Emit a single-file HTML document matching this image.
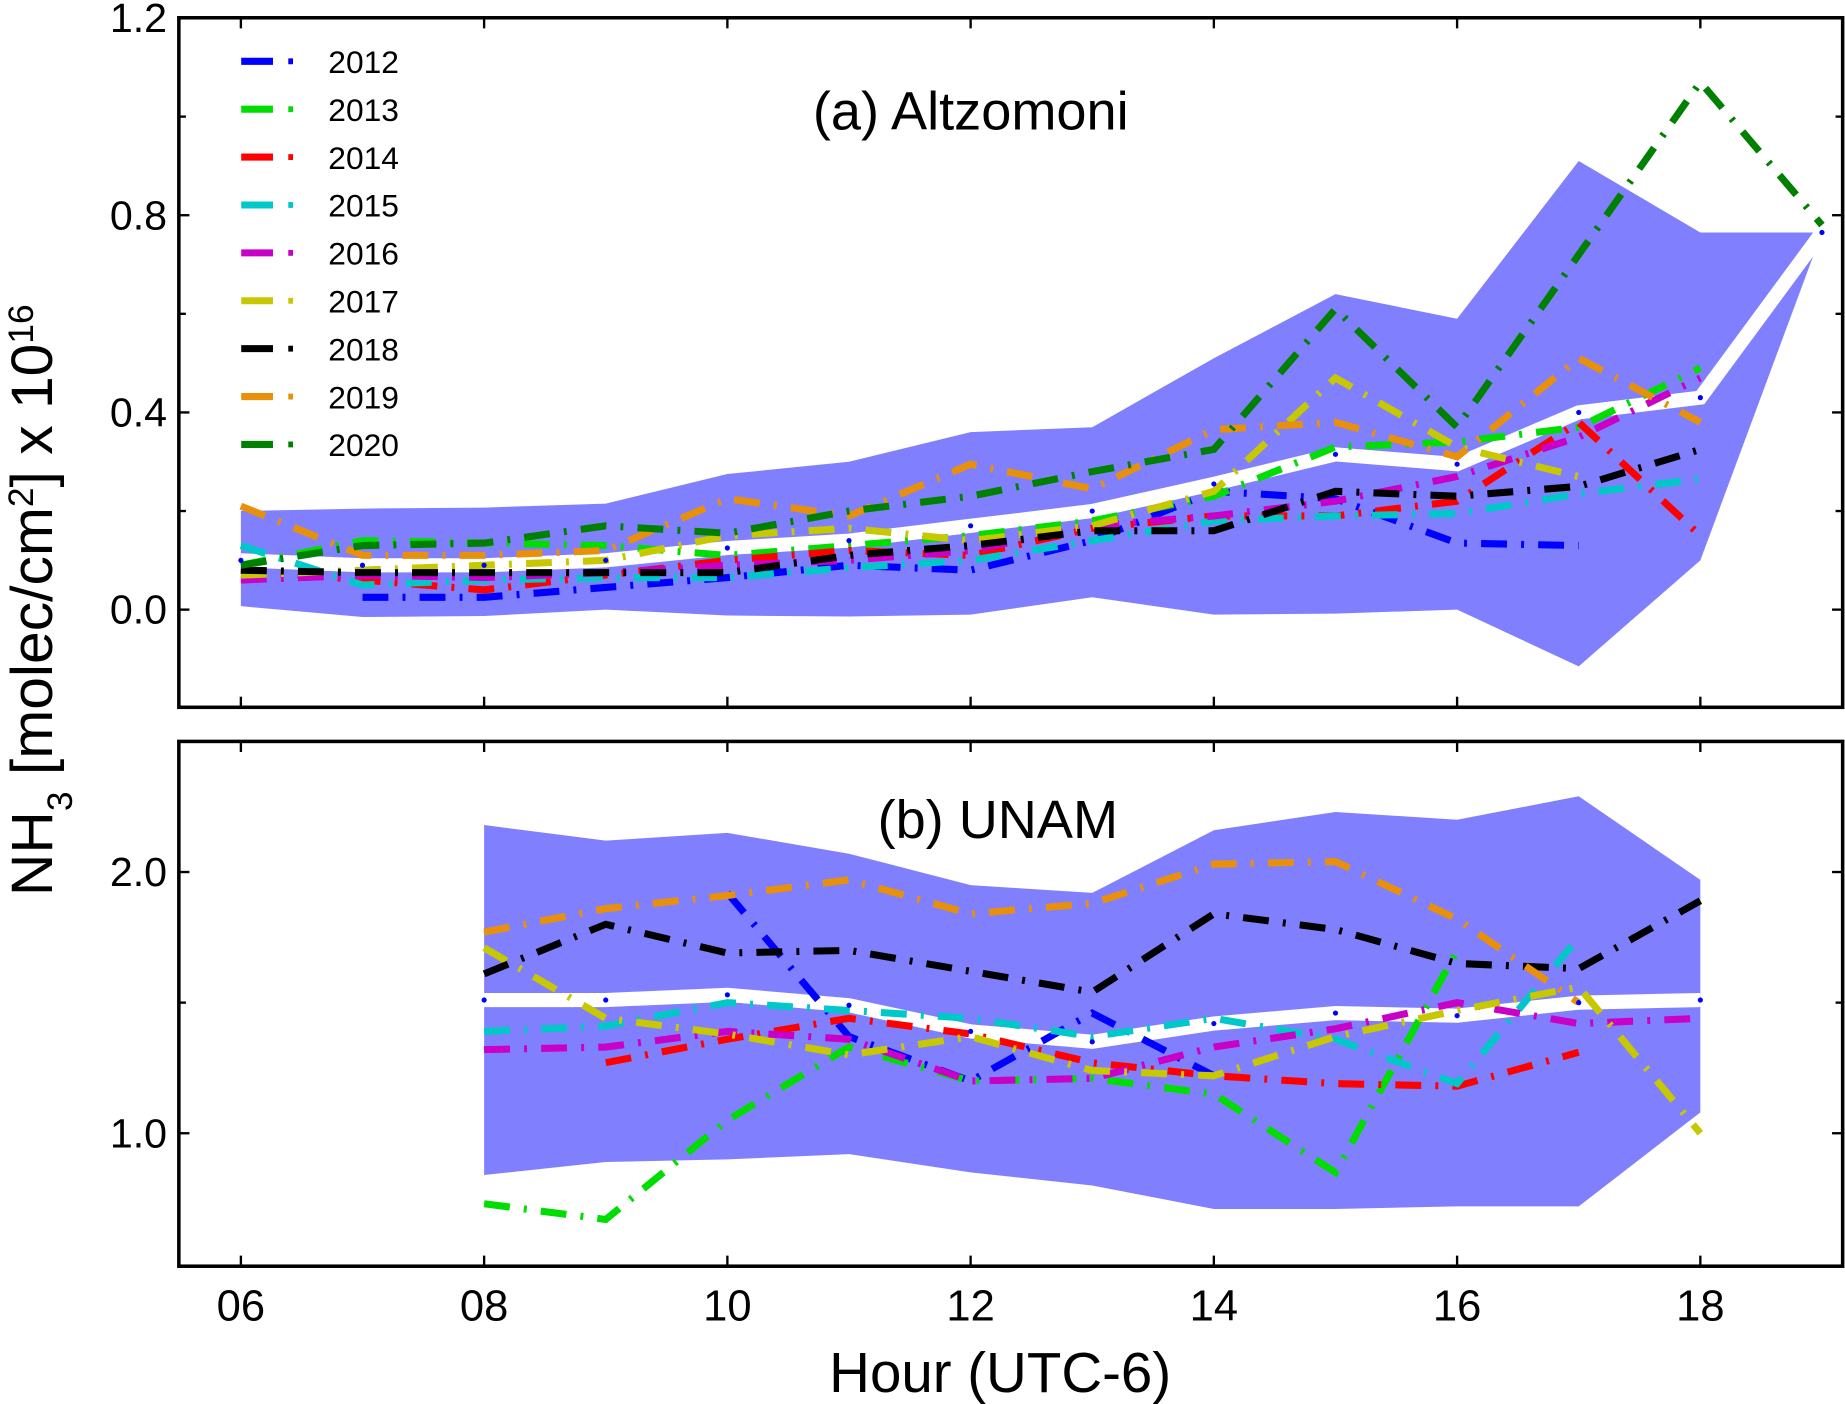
<!DOCTYPE html>
<html><head><meta charset="utf-8"><style>
html,body{margin:0;padding:0;background:#fff}
svg{display:block}
text{font-family:"Liberation Sans",sans-serif;fill:#000}
</style></head><body>
<svg id="chart" width="1845" height="1404" viewBox="0 0 1568 1193" xmlns="http://www.w3.org/2000/svg">
<g id="root"></g>
</svg>
<script>
const hoursTop=[6,7,8,9,10,11,12,13,14,15,16,17,18,19];
const envUpperTop=[0.2,0.205,0.207,0.215,0.275,0.30,0.36,0.37,0.51,0.64,0.59,0.91,0.765,0.765];
const envLowerTop=[0.007,-0.015,-0.013,0.0,-0.012,-0.014,-0.01,0.025,-0.01,-0.008,0.0,-0.115,0.10,0.765];
const meanTop=[0.10,0.09,0.09,0.10,0.125,0.14,0.17,0.20,0.255,0.315,0.295,0.40,0.43,0.765];
const yearsLabels=['2012','2013','2014','2015','2016','2017','2018','2019','2020'];
const colors=['#0000ff','#00dd00','#ff0000','#00c8c8','#c800c8','#c8c800','#000000','#e8900a','#008000'];
const top2012=[null,0.025,0.025,0.045,0.065,0.09,0.08,0.14,0.24,0.225,0.135,0.13,null,null];
const top2013=[0.09,0.14,0.135,0.13,0.11,0.13,0.15,0.18,0.23,0.33,0.34,0.37,0.49,null];
const top2014=[0.08,0.06,0.04,0.07,0.10,0.12,0.11,0.165,0.19,0.19,0.22,0.38,0.15,null];
const top2015=[0.13,0.05,0.06,0.065,0.065,0.085,0.10,0.14,0.18,0.19,0.195,0.235,0.265,null];
const top2016=[0.06,0.07,0.065,0.075,0.09,0.10,0.12,0.17,0.19,0.22,0.27,0.35,0.47,null];
const top2017=[0.07,0.08,0.09,0.10,0.15,0.165,0.14,0.17,0.24,0.47,0.33,0.27,null,null];
const top2018=[0.08,0.075,0.075,0.075,0.075,0.11,0.13,0.16,0.16,0.24,0.23,0.25,0.325,null];
const top2019=[0.21,0.11,0.11,0.12,0.225,0.19,0.295,0.245,0.365,0.38,0.31,0.51,0.38,null];
const top2020=[0.09,0.13,0.135,0.17,0.155,0.20,0.23,0.28,0.325,0.61,0.37,0.72,1.07,0.78];
const hoursBot=[8,9,10,11,12,13,14,15,16,17,18];
const envUpperBot=[2.18,2.12,2.15,2.07,1.95,1.92,2.16,2.23,2.2,2.29,1.97];
const envLowerBot=[0.84,0.89,0.90,0.92,0.85,0.80,0.71,0.71,0.72,0.72,1.08];
const meanBot=[1.51,1.51,1.53,1.49,1.39,1.35,1.42,1.46,1.45,1.50,1.51];
const bot2012=[null,null,1.92,1.37,1.20,1.46,1.22,null,null,null,null];
const bot2013=[0.73,0.67,1.05,1.33,1.20,1.21,1.15,0.85,1.70,null,null];
const bot2014=[null,1.27,1.36,1.44,1.38,1.27,1.22,1.19,1.18,1.31,null];
const bot2015=[1.39,1.41,1.50,1.47,1.44,1.37,1.44,1.36,1.19,1.75,null];
const bot2016=[1.32,1.33,1.39,1.36,1.20,1.21,1.33,1.40,1.50,1.42,1.44];
const bot2017=[1.71,1.44,1.38,1.30,1.37,1.24,1.22,1.37,1.47,1.56,1.00];
const bot2018=[1.61,1.80,1.69,1.70,1.62,1.54,1.84,1.78,1.65,1.63,1.89];
const bot2019=[1.77,1.86,1.91,1.97,1.84,1.88,2.03,2.04,1.82,1.50,null];
const bot2020=[null,null,null,null,null,null,null,null,null,null,null];
const xTicks=['06','08','10','12','14','16','18'];
const yTicksTop=['0.0','0.4','0.8','1.2'];
const yTicksBot=['1.0','2.0'];

const NS='http://www.w3.org/2000/svg';
const root=document.getElementById('root');
function mk(tag,attrs,parent){const e=document.createElementNS(NS,tag);for(const k in attrs)e.setAttribute(k,attrs[k]);(parent||root).appendChild(e);return e;}
const X0=152,X1=1566,H0=5.49,H1=19.17;
const xs=h=>X0+(h-H0)/(H1-H0)*(X1-X0);
const yTop=v=>518-v*419;
const yBot=v=>741-(v-2.0)*222;
const DASH='22,12,2.5,12';

function panel(name,yf,y0,y1,hours,up,lo,mean,series,ticks,minor){
  const g=mk('g',{});
  
  
  let p='';
  hours.forEach((h,i)=>{p+=(i?'L':'M')+xs(h)+','+yf(up[i]);});
  for(let i=hours.length-1;i>=0;i--)p+='L'+xs(hours[i])+','+yf(lo[i]);
  const env=mk('path',{d:p+'Z',fill:'#8080ff',stroke:'none'},g);
  
  
  const m=mk('polyline',{points:hours.map((h,i)=>xs(h)+','+yf(mean[i])).join(' '),fill:'none',stroke:'#fff','stroke-width':12},g);
  
  
  series.forEach((s,k)=>{
    const segs=[];let cur=[];
    s.forEach((v,i)=>{if(v==null){if(cur.length)segs.push(cur);cur=[];}else cur.push([xs(hours[i]),yf(v)]);});
    if(cur.length)segs.push(cur);
    segs.forEach(sg=>{
      const l=mk('polyline',{points:sg.map(q=>q.join(',')).join(' '),fill:'none',stroke:colors[k],'stroke-width':6,'stroke-dasharray':DASH},g);
      
      
    });
  });
  hours.forEach((h,i)=>{const c=mk('circle',{cx:xs(h),cy:yf(mean[i]),r:2.2,fill:'#0000ff'},g);
    
    });
  const f=mk('rect',{x:X0,y:y0,width:X1-X0,height:y1-y0,fill:'none',stroke:'#000','stroke-width':3},g);
  
  
  xTicks.forEach(t=>{const x=xs(+t);mk('line',{x1:x,x2:x,y1:y1,y2:y1-9,stroke:'#000','stroke-width':2},g);mk('line',{x1:x,x2:x,y1:y0,y2:y0+9,stroke:'#000','stroke-width':2},g);});
  ticks.forEach(t=>{const y=yf(+t);mk('line',{x1:X0,x2:X0+9,y1:y,y2:y,stroke:'#000','stroke-width':2},g);mk('line',{x1:X1,x2:X1-9,y1:y,y2:y,stroke:'#000','stroke-width':2},g);
    const tx=mk('text',{x:X0-10,y:y+12,'text-anchor':'end','font-size':35},g);tx.textContent=t;
    
    });
  minor.forEach(v=>{const y=yf(v);mk('line',{x1:X0,x2:X0+6,y1:y,y2:y,stroke:'#000','stroke-width':2},g);mk('line',{x1:X1,x2:X1-6,y1:y,y2:y,stroke:'#000','stroke-width':2},g);});
  return g;
}
panel('panel-altzomoni',yTop,15,601,hoursTop,envUpperTop,envLowerTop,meanTop,[top2012,top2013,top2014,top2015,top2016,top2017,top2018,top2019,top2020],yTicksTop,[0.2,0.6,1.0]);
panel('panel-unam',yBot,630,1076,hoursBot,envUpperBot,envLowerBot,meanBot,[bot2012,bot2013,bot2014,bot2015,bot2016,bot2017,bot2018,bot2019,bot2020],yTicksBot,[1.5]);

yearsLabels.forEach((y,k)=>{
  const yy=52+k*40.7;
  const g=mk('g',{});
  
  
  mk('line',{x1:205,x2:232,y1:yy,y2:yy,stroke:colors[k],'stroke-width':6},g);
  mk('line',{x1:245,x2:249,y1:yy,y2:yy,stroke:colors[k],'stroke-width':5},g);
  const t=mk('text',{x:279,y:yy+10,'font-size':27},g);t.textContent=y;
});
xTicks.forEach(t=>{const tx=mk('text',{x:xs(+t),y:1122,'text-anchor':'middle','font-size':37});tx.textContent=t;
  
  });
const ttl1=mk('text',{x:825,y:110,'text-anchor':'middle','font-size':46});ttl1.textContent='(a) Altzomoni';


const ttl2=mk('text',{x:848,y:712,'text-anchor':'middle','font-size':46});ttl2.textContent='(b) UNAM';


const xt=mk('text',{x:850,y:1183,'text-anchor':'middle','font-size':48});xt.textContent='Hour  (UTC-6)';


const yt=mk('text',{x:0,y:0,'text-anchor':'middle','font-size':50,transform:'translate(44,510) rotate(-90)'});
yt.innerHTML='NH<tspan baseline-shift="sub" font-size="30">3</tspan> [molec/cm<tspan baseline-shift="super" font-size="30">2</tspan>] x 10<tspan baseline-shift="super" font-size="30">16</tspan>';


</script>
</body></html>
